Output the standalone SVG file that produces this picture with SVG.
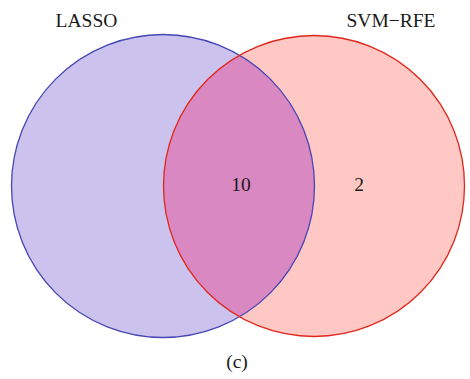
<svg xmlns="http://www.w3.org/2000/svg" width="470" height="379" viewBox="0 0 470 379">
<style>
text{font-family:"Liberation Serif","Times New Roman",serif;font-size:19.5px;fill:#1a1a1a;text-anchor:middle}
</style>
<defs>
<clipPath id="clipL"><circle cx="163" cy="186" r="151.5"/></clipPath>
</defs>
<rect width="470" height="379" fill="#fff"/>
<g id="lasso">
<circle cx="163" cy="186" r="151.5" fill="#CCC2EE"/>
</g>
<g id="svmrfe">
<circle cx="314" cy="186" r="150.5" fill="#FFC8C5"/>
</g>
<g id="overlap">
<circle cx="314" cy="186" r="150.5" fill="#DA88C1" clip-path="url(#clipL)"/>
</g>
<g id="outlines" fill="none" stroke-width="1.3">
<circle cx="163" cy="186" r="151.5" stroke="#4646B4"/>
<circle cx="314" cy="186" r="150.5" stroke="#E0261A"/>
</g>
<g id="labels">
<text x="86.5" y="27">LASSO</text>
<text x="391" y="27">SVM−RFE</text>
<text x="241" y="191">10</text>
<text x="359" y="191">2</text>
<text x="237" y="368">(c)</text>
</g>
</svg>
